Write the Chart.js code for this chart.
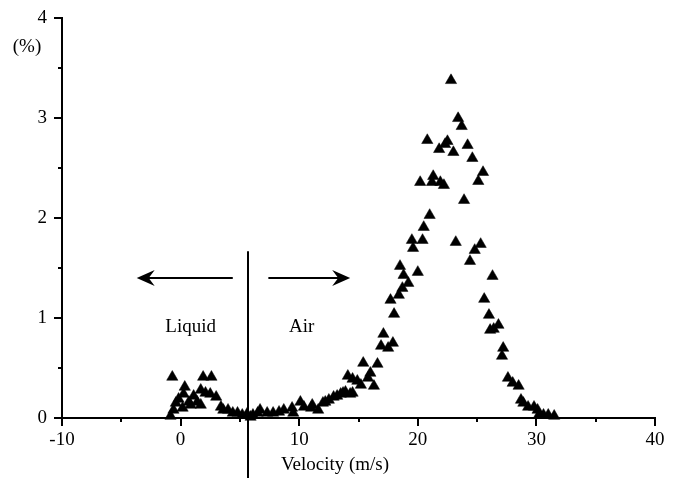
<!DOCTYPE html>
<html>
<head>
<meta charset="utf-8">
<script src="https://cdn.jsdelivr.net/npm/chart.js@4"></script>
<style>
    html, body { margin: 0; padding: 0; background: #fff; }
    #wrap { width: 675px; height: 490px; }
</style>
</head>
<body>
<div id="wrap"><canvas id="chartVelocidad" width="675" height="490"></canvas></div>
<script>
// velocity distribution, air / liquid phases
const velocidades = [
    -0.85, -0.7, -0.6, -0.4, -0.17, 0.17, 0.25, 0.35, 0.7, 0.85,
    1.1, 1.4, 1.7, 1.7, 1.9, 2.1, 2.5, 2.6, 3.0, 3.4,
    3.6, 4.0, 4.4, 4.8, 5.2, 5.6, 5.9, 6.1, 6.5, 6.7,
    7.3, 7.8, 8.3, 8.7, 9.4, 9.5, 10.1, 10.4, 11.0, 11.1,
    11.6, 12.0, 12.2, 12.5, 12.9, 13.2, 13.5, 13.7, 13.9, 14.1,
    14.3, 14.5, 14.5, 14.9, 15.2, 15.4, 15.8, 16.0, 16.3, 16.6,
    16.9, 17.1, 17.5, 17.7, 17.9, 18.0, 18.4, 18.5, 18.7, 18.8,
    19.2, 19.5, 19.6, 20.0, 20.2, 20.4, 20.5, 20.8, 21.0, 21.2,
    21.3, 21.8, 21.9, 22.2, 22.3, 22.5, 22.8, 23.0, 23.2, 23.4,
    23.7, 23.9, 24.2, 24.4, 24.6, 24.8, 25.1, 25.3, 25.5, 25.6,
    26.0, 26.1, 26.3, 26.4, 26.8, 27.1, 27.2, 27.6, 28.0, 28.5,
    28.7, 28.9, 29.3, 29.8, 30.1, 30.2, 30.6, 31.0, 31.5
];
const porcentajes = [
    0.02, 0.41, 0.08, 0.15, 0.19, 0.10, 0.24, 0.31, 0.16, 0.13,
    0.22, 0.16, 0.13, 0.28, 0.41, 0.25, 0.24, 0.41, 0.21, 0.11,
    0.08, 0.08, 0.05, 0.05, 0.03, 0.04, 0.01, 0.03, 0.05, 0.08,
    0.05, 0.05, 0.06, 0.08, 0.10, 0.05, 0.16, 0.11, 0.10, 0.13,
    0.08, 0.15, 0.16, 0.18, 0.21, 0.22, 0.24, 0.25, 0.26, 0.42,
    0.24, 0.25, 0.39, 0.37, 0.33, 0.55, 0.40, 0.45, 0.32, 0.54,
    0.72, 0.84, 0.70, 1.18, 0.75, 1.04, 1.23, 1.52, 1.30, 1.43,
    1.35, 1.78, 1.70, 1.46, 2.36, 1.78, 1.91, 2.78, 2.03, 2.36,
    2.42, 2.69, 2.36, 2.33, 2.74, 2.77, 3.38, 2.66, 1.76, 3.00,
    2.92, 2.18, 2.73, 1.57, 2.60, 1.68, 2.37, 1.74, 2.46, 1.19,
    1.03, 0.88, 1.42, 0.89, 0.93, 0.62, 0.70, 0.40, 0.35, 0.32,
    0.18, 0.15, 0.11, 0.11, 0.08, 0.03, 0.03, 0.03, 0.02
];

const ejeX = { min: -10, max: 40, paso: 5, etiquetaCada: 10 };
const ejeY = { min: 0, max: 4, paso: 0.5, etiquetaCada: 1 };

// liquid / air boundary and arrows
const fronteraVelocidad = 5.7;
const fronteraTope = 1.67;
const flechaAltura = 1.40;
const flechaLiquido = [4.4, -3.7];
const flechaAire = [7.4, 14.3];
const textos = [
    { texto: 'Liquid', x: 0.85, y: 0.91 },
    { texto: 'Air', x: 10.2, y: 0.91 }
];

const FUENTE = '19px "Liberation Serif", "Times New Roman", serif';

const puntos = velocidades.map((v, i) => ({ x: v, y: porcentajes[i] }));

function flecha(ctx, x1, x2, y) {
    const dir = Math.sign(x2 - x1);
    const largo = 18;
    ctx.beginPath();
    ctx.moveTo(x1, y);
    ctx.lineTo(x2 - dir * 10, y);
    ctx.stroke();
    ctx.beginPath();
    ctx.moveTo(x2, y);
    ctx.lineTo(x2 - dir * largo, y - 8);
    ctx.lineTo(x2 - dir * (largo - 6), y);
    ctx.lineTo(x2 - dir * largo, y + 8);
    ctx.closePath();
    ctx.fill();
}

const decoracion = {
    id: 'decoracion',
    afterDatasetsDraw(chart) {
        const { ctx, scales: { x, y }, chartArea } = chart;
        ctx.save();
        ctx.strokeStyle = '#000';
        ctx.fillStyle = '#000';
        ctx.lineWidth = 2;

        // marcas de los ejes
        for (let v = ejeX.min; v <= ejeX.max; v += ejeX.paso) {
            const px = Math.round(x.getPixelForValue(v));
            const largo = v % ejeX.etiquetaCada === 0 ? 8 : 4;
            ctx.beginPath();
            ctx.moveTo(px, chartArea.bottom);
            ctx.lineTo(px, chartArea.bottom + largo);
            ctx.stroke();
        }
        for (let v = ejeY.min; v <= ejeY.max; v += ejeY.paso) {
            const py = Math.round(y.getPixelForValue(v));
            const largo = v % ejeY.etiquetaCada === 0 ? 8 : 4;
            ctx.beginPath();
            ctx.moveTo(chartArea.left, py);
            ctx.lineTo(chartArea.left - largo, py);
            ctx.stroke();
        }

        // frontera liquido / aire
        const fx = Math.round(x.getPixelForValue(fronteraVelocidad));
        ctx.beginPath();
        ctx.moveTo(fx, y.getPixelForValue(fronteraTope));
        ctx.lineTo(fx, chartArea.bottom + 60);
        ctx.stroke();

        const ay = Math.round(y.getPixelForValue(flechaAltura));
        ctx.lineWidth = 2;
        flecha(ctx, x.getPixelForValue(flechaLiquido[0]), x.getPixelForValue(flechaLiquido[1]), ay);
        flecha(ctx, x.getPixelForValue(flechaAire[0]), x.getPixelForValue(flechaAire[1]), ay);

        ctx.font = FUENTE;
        ctx.textAlign = 'center';
        ctx.textBaseline = 'middle';
        textos.forEach(t => {
            ctx.fillText(t.texto, x.getPixelForValue(t.x), y.getPixelForValue(t.y));
        });

        // titulos de los ejes
        ctx.fillText('Velocity (m/s)', 335, 465);
        ctx.fillText('(%)', 27, 47);
        ctx.restore();
    }
};

new Chart(document.getElementById('chartVelocidad'), {
    type: 'scatter',
    data: {
        datasets: [{
            data: puntos,
            pointStyle: 'triangle',
            pointRadius: 6.5,
            pointHoverRadius: 6.5,
            pointBackgroundColor: '#000',
            pointBorderColor: '#000',
            pointBorderWidth: 0.5,
            clip: false
        }]
    },
    options: {
        responsive: false,
        animation: false,
        events: [],
        layout: { padding: { top: 10, right: 20, left: 0, bottom: 0 } },
        plugins: {
            legend: { display: false },
            tooltip: { enabled: false }
        },
        scales: {
            x: {
                type: 'linear',
                min: ejeX.min,
                max: ejeX.max,
                afterFit: s => { s.height = 72; },
                border: { display: true, color: '#000', width: 2 },
                grid: { display: false, drawTicks: true, tickLength: 8 },
                ticks: {
                    stepSize: ejeX.paso,
                    autoSkip: false,
                    maxRotation: 0,
                    padding: 3,
                    color: '#000',
                    font: { family: '"Liberation Serif", "Times New Roman", serif', size: 19 },
                    callback: v => (v % ejeX.etiquetaCada === 0 ? v : '')
                }
            },
            y: {
                type: 'linear',
                min: ejeY.min,
                max: ejeY.max,
                afterFit: s => { s.width = 62; },
                border: { display: true, color: '#000', width: 2 },
                grid: { display: false, drawTicks: true, tickLength: 8 },
                ticks: {
                    stepSize: ejeY.paso,
                    autoSkip: false,
                    padding: 7,
                    color: '#000',
                    font: { family: '"Liberation Serif", "Times New Roman", serif', size: 19 },
                    callback: v => (v % ejeY.etiquetaCada === 0 ? v : '')
                }
            }
        }
    },
    plugins: [decoracion]
});
</script>
</body>
</html>
